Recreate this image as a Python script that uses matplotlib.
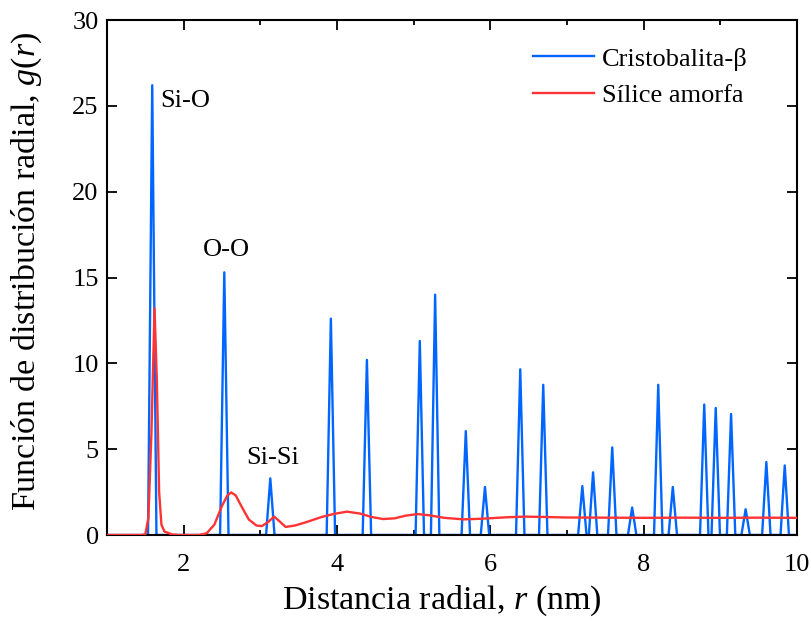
import numpy as np
import matplotlib
matplotlib.use("Agg")
import matplotlib.pyplot as plt
from matplotlib.ticker import MultipleLocator

# --- Data -----------------------------------------------------------------
# Cristobalita-beta: peak positions (nm) and heights of g(r)
cristo_r = [1.59, 2.53, 3.13, 3.92, 4.39, 5.08, 5.28, 5.68, 5.93, 6.39, 6.69,
            7.20, 7.34, 7.59, 7.85, 8.19, 8.38, 8.79, 8.94, 9.14, 9.33, 9.60, 9.84]
cristo_g = [26.2, 15.3, 3.3, 12.6, 10.2, 11.3, 14.0, 6.05, 2.8, 9.65, 8.75,
            2.85, 3.65, 5.1, 1.6, 8.75, 2.8, 7.6, 7.4, 7.05, 1.5, 4.25, 4.05]

# Silice amorfa: sampled g(r)
amorfa_r = [1.00, 1.45, 1.50, 1.54, 1.58, 1.62, 1.65, 1.68, 1.71, 1.75, 1.85, 1.95,
            2.20, 2.30, 2.40, 2.50, 2.57, 2.62, 2.68, 2.75, 2.85, 2.95, 3.02, 3.10,
            3.18, 3.25, 3.33, 3.45, 3.60, 3.80, 3.95, 4.13, 4.30, 4.45, 4.60, 4.75,
            4.90, 5.05, 5.20, 5.40, 5.65, 5.90, 6.20, 6.45, 6.70, 7.00, 7.50, 8.00,
            8.50, 9.00, 9.50, 10.00]
amorfa_g = [0.0, 0.0, 0.05, 1.0, 6.0, 13.2, 9.0, 2.5, 0.6, 0.2, 0.03, 0.0,
            0.0, 0.1, 0.6, 1.7, 2.3, 2.48, 2.3, 1.7, 0.9, 0.55, 0.52, 0.75,
            1.07, 0.8, 0.47, 0.55, 0.75, 1.05, 1.22, 1.36, 1.25, 1.05, 0.93, 0.97,
            1.13, 1.22, 1.15, 1.0, 0.91, 0.95, 1.03, 1.07, 1.05, 1.02, 1.01, 1.0,
            1.01, 1.0, 1.01, 1.0]

labels = ["Cristobalita-β", "Sílice amorfa"]
annotations = [("Si-O", 1.70, 25.3), ("O-O", 2.25, 16.6), ("Si-Si", 2.81, 4.5)]

# Build cristobalite polyline (narrow triangular peaks on zero baseline)
hw = 0.055
bx, by = [1.0], [0.0]
for c, h in zip(cristo_r, cristo_g):
    bx += [c - hw, c, c + hw]
    by += [0.0, h, 0.0]
bx.append(10.0)
by.append(0.0)

# --- Plot -----------------------------------------------------------------
plt.rcParams['font.family'] = ['Liberation Serif', 'DejaVu Serif']
plt.rcParams['mathtext.fontset'] = 'custom'
plt.rcParams['mathtext.it'] = 'Liberation Serif:italic'
plt.rcParams['mathtext.rm'] = 'Liberation Serif'

fig = plt.figure(figsize=(8.12, 6.23), dpi=100)
ax = fig.add_axes([107/812, 1 - 535/623, 690/812, 515/623])

ax.plot(bx, by, color='#0066ff', lw=1.7, label=labels[0], zorder=2)
ax.plot(amorfa_r, amorfa_g, color='#ff3333', lw=1.7, label=labels[1], zorder=3)

ax.set_xlim(1, 10)
ax.set_ylim(0, 30)
ax.xaxis.set_major_locator(MultipleLocator(2))
ax.xaxis.set_minor_locator(MultipleLocator(1))
ax.yaxis.set_major_locator(MultipleLocator(5))
ax.tick_params(which='both', direction='in', top=True, right=True, width=1.3,
               labelsize=19, colors='black')
ax.tick_params(which='major', length=7)
ax.tick_params(which='minor', length=3.5)
ax.tick_params(axis='x', pad=14)
ax.tick_params(axis='y', pad=6)
for s in ax.spines.values():
    s.set_linewidth(1.5)

ax.set_xlabel(r"Distancia radial, $r$ (nm)", fontsize=24.5)
ax.set_ylabel(r"Función de distribución radial, $g$($r$)", fontsize=24.5)
ax.xaxis.set_label_coords(0.485, -0.095)
ax.yaxis.set_label_coords(-0.092, 0.512)

for txt, x, y in annotations:
    ax.text(x, y, txt, fontsize=19, ha='left', va='center')

leg = ax.legend(loc='upper right', bbox_to_anchor=(0.944, 0.9676),
                frameon=False, fontsize=19, handlelength=2.3,
                handletextpad=0.3, borderaxespad=0.0, labelspacing=0.48)

fig.savefig("out.png", dpi=100)
